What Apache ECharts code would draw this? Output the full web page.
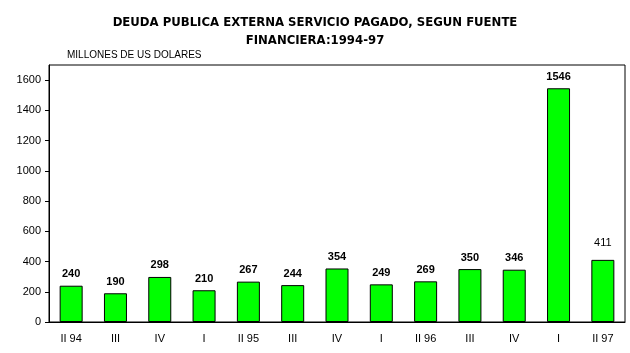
<!DOCTYPE html>
<html><head><meta charset="utf-8">
<script src="https://cdn.jsdelivr.net/npm/echarts@6/dist/echarts.min.js"></script>
<style>html,body{margin:0;padding:0;background:#fff}#c{width:630px;height:353px}</style>
</head><body><div id="c"></div>
<script>
const categories = ['II 94','III','IV','I','II 95','III','IV','I','II 96','III','IV','I','II 97'];
const values = [240,190,298,210,267,244,354,249,269,350,346,1546,411];
const yTicks = [0,200,400,600,800,1000,1200,1400,1600];
const titleText = 'DEUDA PUBLICA EXTERNA SERVICIO PAGADO, SEGUN FUENTE\nFINANCIERA:1994-97';
const unitText = 'MILLONES DE US DOLARES';

const F = 'Arial, "Liberation Sans", sans-serif';
const chart = echarts.init(document.getElementById('c'), null, {renderer:'canvas'});
const data = values.map((v,i)=>{
  const item = {value:v};
  if (i === values.length-1) item.label = {fontWeight:'normal', distance:11};
  return item;
});
chart.setOption({
  animation:false,
  backgroundColor:'#fff',
  title:[{
    text:titleText, left:'center', top:9,
    textStyle:{fontFamily:'"Liberation Sans Narrow", "DejaVu Sans Condensed", Arial, sans-serif', fontSize:13, fontWeight:'bold', color:'#000', lineHeight:18}
  },{
    text:unitText, left:62, top:45,
    textStyle:{fontFamily:F, fontSize:10, fontWeight:'normal', color:'#000'}
  }],
  grid:{left:49, right:5, top:65, bottom:31, show:true, borderColor:'#000', borderWidth:1, backgroundColor:'transparent'},
  xAxis:{
    type:'category', data:categories,
    axisLine:{lineStyle:{color:'#000', width:1}},
    axisTick:{show:false},
    axisLabel:{color:'#000', fontFamily:F, fontSize:11, margin:11, interval:0}
  },
  yAxis:{
    type:'value', min:0, max:1700,
    axisLine:{show:true, lineStyle:{color:'#000', width:1}},
    axisTick:{show:true, length:4, lineStyle:{color:'#000'}, customValues:yTicks},
    axisLabel:{color:'#000', fontFamily:F, fontSize:11, margin:8, customValues:yTicks, formatter:v=>String(v)},
    splitLine:{show:false}
  },
  series:[{
    type:'bar', data:data, barWidth:23,
    itemStyle:{color:'#00ff00', borderColor:'#000', borderWidth:1},
    label:{show:true, position:'top', distance:6, color:'#000', fontFamily:F, fontSize:11, fontWeight:'bold'}
  }]
});
</script></body></html>
